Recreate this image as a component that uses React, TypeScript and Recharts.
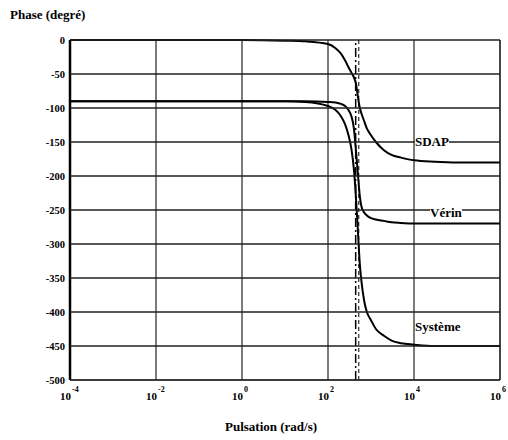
import { LineChart, Line, XAxis, YAxis, CartesianGrid, ReferenceLine } from "recharts"

// pulsation (rad/s) sample points, phase (degrees)
const pulsation = [1e-4, 1e-2, 1, 10, 30, 100, 150, 200, 250, 300, 350, 400, 450, 500, 550, 600, 700, 800, 1000, 1300, 2000, 3000, 5000, 1e4, 3e4, 1e5, 1e6]
const sdap = [0, 0, 0, -1, -2, -6, -12, -20, -30, -40, -48, -55, -65, -85, -100, -108, -120, -130, -140, -150, -162, -169, -173, -177, -179, -180, -180]
const verin = [-90, -90, -90, -90, -90, -91, -92, -94, -97, -103, -112, -130, -165, -200, -230, -245, -254, -258, -262, -264, -266, -268, -269, -270, -270, -270, -270]
const systeme = [-90, -90, -90, -90, -91, -97, -103, -112, -124, -140, -160, -190, -235, -285, -330, -355, -385, -400, -412, -425, -435, -442, -446, -448, -450, -450, -450]

const xTicks = [1e-4, 1e-2, 1, 1e2, 1e4, 1e6]
const yTicks = [0, -50, -100, -150, -200, -250, -300, -350, -400, -450, -500]
const markers = [440, 520]

const data = pulsation.map((w, i) => ({ w, sdap: sdap[i], verin: verin[i], systeme: systeme[i] }))

const FONT = "'Liberation Serif', 'DejaVu Serif', serif"
const PLOT_W = 430

function XTick({ x, y, payload }: any) {
  const exp = Math.round(Math.log10(payload.value))
  const cx = payload.coordinate ?? x
  return (
    <text y={y + 20} fontFamily={FONT} fontWeight="bold" fontSize={11} fill="#000">
      <tspan x={cx + 1} textAnchor="end">10</tspan>
      <tspan x={cx + 2} dy={-8} fontSize={8}>{exp}</tspan>
    </text>
  )
}

// y tick also draws its horizontal grid line across the plot
function YTick({ x, y, payload }: any) {
  const px = Number(x)
  const py = Number(y)
  return (
    <g>
      <rect x={px} y={py - 0.75} width={PLOT_W} height={1.5} fill="#222" />
      <text x={px - 5} y={py + 4} textAnchor="end" fontFamily={FONT} fontWeight="bold" fontSize={10.5} fill="#000">
        {payload.value}
      </text>
    </g>
  )
}

const labelStyle: React.CSSProperties = {
  position: "absolute",
  fontFamily: FONT,
  fontWeight: "bold",
  fontSize: 13,
  color: "#000",
  background: "#fff",
  lineHeight: "13px",
  whiteSpace: "nowrap",
}

export default function App() {
  return (
    <div style={{ position: "absolute", left: 0, top: 0, width: 508, height: 440, background: "#fff" }}>
      <LineChart width={508} height={440} data={data} margin={{ top: 40, right: 8, bottom: 0, left: 0 }}>
        <CartesianGrid stroke="#222" strokeWidth={1.2} horizontal={false} />
        <XAxis
          dataKey="w"
          type="number"
          scale="log"
          domain={[1e-4, 1e6]}
          ticks={xTicks}
          interval={0}
          allowDataOverflow
          height={60}
          tickLine={false}
          tickSize={0}
          tickMargin={0}
          axisLine={{ stroke: "#222", strokeWidth: 1.2 }}
          tick={<XTick />}
        />
        <YAxis
          type="number"
          domain={[-500, 0]}
          ticks={yTicks}
          interval={0}
          width={70}
          tickLine={false}
          tickSize={0}
          tickMargin={0}
          axisLine={{ stroke: "#000", strokeWidth: 2.5 }}
          tick={<YTick />}
        />
        <ReferenceLine x={xTicks[xTicks.length - 1]} stroke="#222" strokeWidth={1.2} />
        <ReferenceLine x={markers[0]} stroke="#000" strokeWidth={1.5} strokeDasharray="9 3 2 3" />
        <ReferenceLine x={markers[1]} stroke="#000" strokeWidth={1} strokeDasharray="4 3" />
        <Line dataKey="sdap" type="monotone" stroke="#000" strokeWidth={2} dot={false} isAnimationActive={false} />
        <Line dataKey="verin" type="monotone" stroke="#000" strokeWidth={2} dot={false} isAnimationActive={false} />
        <Line dataKey="systeme" type="monotone" stroke="#000" strokeWidth={2} dot={false} isAnimationActive={false} />
      </LineChart>
      <div style={{ ...labelStyle, left: 10, top: 8, background: "transparent" }}>Phase (degré)</div>
      <div style={{ ...labelStyle, left: 225, top: 420, background: "transparent" }}>Pulsation (rad/s)</div>
      <div style={{ ...labelStyle, left: 415, top: 135 }}>SDAP</div>
      <div style={{ ...labelStyle, left: 430, top: 206 }}>Vérin</div>
      <div style={{ ...labelStyle, left: 415, top: 320 }}>Système</div>
    </div>
  )
}
